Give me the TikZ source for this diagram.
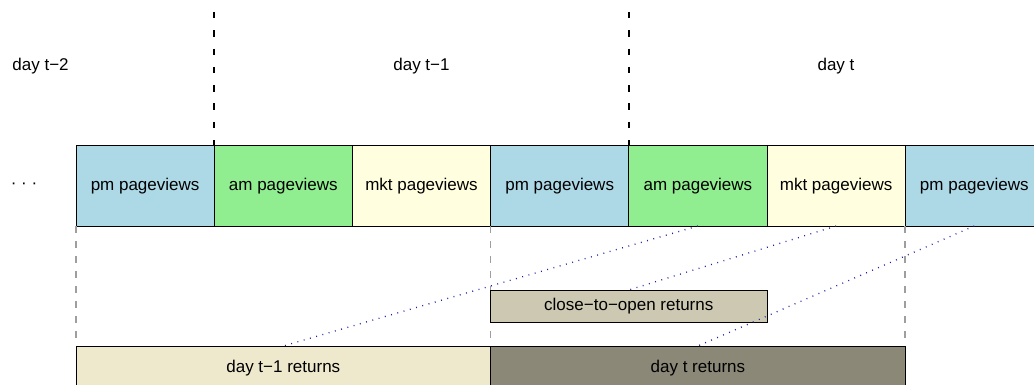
\documentclass[tikz,border=0pt]{standalone}
\usepackage{fontspec}
\setmainfont{Liberation Sans}
\definecolor{pmcol}{RGB}{173,216,230}
\definecolor{amcol}{RGB}{144,238,144}
\definecolor{mktcol}{RGB}{255,255,224}
\definecolor{cstwo}{RGB}{238,232,205}
\definecolor{csthree}{RGB}{205,200,177}
\definecolor{csfour}{RGB}{139,136,120}
\definecolor{dotblue}{RGB}{30,30,160}
\begin{document}
\begin{tikzpicture}[x=1pt,y=-1pt,
  font=\fontsize{17}{20}\selectfont,
  pv/.style={draw=black, line width=1pt, minimum width=138.2pt, minimum height=80pt,
    inner sep=0pt, outer sep=0pt, anchor=north west},
  pmbox/.style={pv, fill=pmcol},
  ambox/.style={pv, fill=amcol},
  mktbox/.style={pv, fill=mktcol},
  retbox/.style={draw=black, line width=1pt, inner sep=0pt, outer sep=0pt, anchor=north west},
  daylabel/.style={anchor=base, inner sep=0pt},
  daysep/.style={draw=black, line width=1.5pt, dash pattern=on 6.5pt off 11.8pt},
  graysep/.style={draw=black!38, line width=1.5pt, dash pattern=on 7pt off 8pt},
  dotline/.style={draw=dotblue, line width=1.3pt, dash pattern=on 0.9pt off 5.6pt}]
\useasboundingbox (0,0) rectangle (1034,385);
\clip (0,0) rectangle (1034,385);

% day labels
\node[daylabel] (d2) at (40.6,71) {day t−2};
\node[daylabel] (d1) at (421.5,71) {day t−1};
\node[daylabel] (d0) at (836,71) {day t};

% top row
\node[anchor=center, inner sep=0pt] (dots) at (24,186) {· · ·};
\node[pmbox]  (pm1)  at (76,146)    {pm pageviews};
\node[ambox]  (am1)  at (214.2,146) {am pageviews};
\node[mktbox] (mkt1) at (352.4,146) {mkt pageviews};
\node[pmbox]  (pm2)  at (490.6,146) {pm pageviews};
\node[ambox]  (am2)  at (628.8,146) {am pageviews};
\node[mktbox] (mkt2) at (767,146)   {mkt pageviews};
\node[pmbox]  (pm3)  at (905.2,146) {pm pageviews};

% day separators
\coordinate (s1) at (214.2,12);
\coordinate (s2) at (628.8,12);
\draw[daysep] (s1) -- (am1.north west);
\draw[daysep] (s2) -- (am2.north west);

% gray separators
\coordinate (g1) at (76,338);
\coordinate (g2) at (490.6,338);
\coordinate (g3) at (905.2,338);
\draw[graysep] (pm1.south west) -- (g1);
\draw[graysep] (pm2.south west) -- (g2);
\draw[graysep] (pm3.south west) -- (g3);

% returns
\node[retbox, fill=csthree, minimum width=276.4pt, minimum height=32pt] (c2o) at (490.6,290) {close−to−open returns};
\node[retbox, fill=cstwo, minimum width=414.6pt, minimum height=44pt] (r1) at (76,346) {day t−1 returns};
\node[retbox, fill=csfour, minimum width=414.6pt, minimum height=44pt] (r2) at (490.6,346) {day t returns};

% dotted links
\draw[dotline] (am2.south) -- (r1.north);
\draw[dotline] (mkt2.south) -- (c2o.north);
\draw[dotline] (pm3.south) -- (r2.north);
\end{tikzpicture}
\end{document}
